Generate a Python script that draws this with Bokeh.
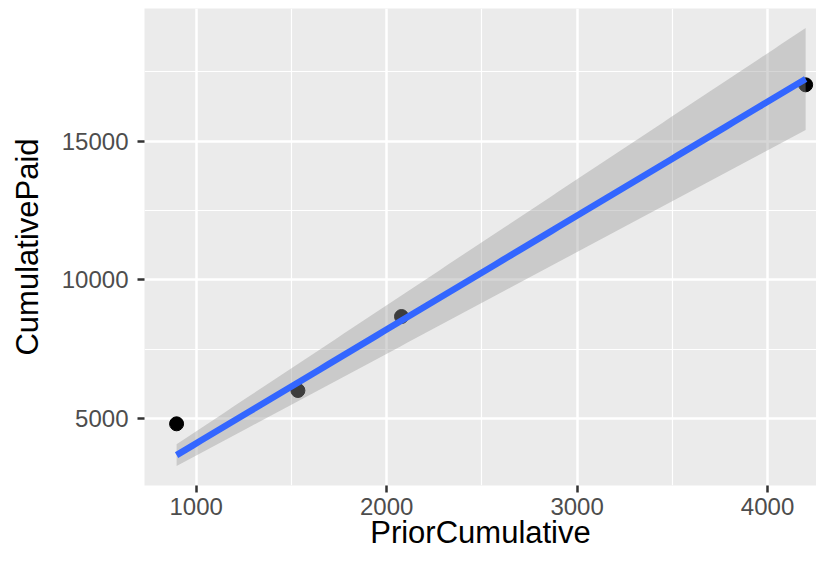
import numpy as np
from bokeh.plotting import figure
from bokeh.models import Range1d, FixedTicker, BasicTickFormatter
from bokeh.embed import file_html
from bokeh.resources import INLINE

# data
prior_cumulative = [897, 1534, 2078, 4200]
cumulative_paid = [4809, 6009, 8676, 17025]

x_ticks = [1000, 2000, 3000, 4000]
x_minor = [1500, 2500, 3500]
y_ticks = [5000, 10000, 15000]
y_minor = [7500, 12500, 17500]

# linear fit through origin (y ~ x + 0) with 95% confidence band
x = np.array(prior_cumulative, dtype=float)
y = np.array(cumulative_paid, dtype=float)
slope = np.sum(x * y) / np.sum(x * x)
resid = y - slope * x
df = len(x) - 1
s2 = np.sum(resid ** 2) / df
t_crit = 3.182446  # t(0.975, df=3)
xs = np.linspace(x.min(), x.max(), 80)
fit = slope * xs
se = np.sqrt(s2 * xs ** 2 / np.sum(x * x))
lo = fit - t_crit * se
hi = fit + t_crit * se

p = figure(width=816, height=557,
           x_range=Range1d(728.5, 4257), y_range=Range1d(2586, 19775),
           output_backend="svg", toolbar_location=None,
           min_border_left=144, min_border_right=0,
           min_border_top=8, min_border_bottom=72)

p.background_fill_color = "#EBEBEB"
p.border_fill_color = "white"
p.outline_line_color = None

p.xaxis.ticker = FixedTicker(ticks=x_ticks, minor_ticks=x_minor)
p.yaxis.ticker = FixedTicker(ticks=y_ticks, minor_ticks=y_minor)
for ax in (p.xaxis, p.yaxis):
    ax.formatter = BasicTickFormatter(use_scientific=False)
    ax.axis_line_color = None
    ax.major_tick_line_color = "#333333"
    ax.major_tick_line_width = 2.5
    ax.major_tick_in = 0
    ax.major_tick_out = 7
    ax.minor_tick_line_color = None
    ax.major_label_text_color = "#4D4D4D"
    ax.major_label_text_font = "Liberation Sans"
    ax.major_label_text_font_size = "24px"
    ax.axis_label_text_font = "Liberation Sans"
    ax.axis_label_text_font_size = "31px"
    ax.axis_label_text_font_style = "normal"
    ax.axis_label_text_color = "black"

p.yaxis.major_label_standoff = 9
p.xaxis.major_label_standoff = 5
p.xaxis.axis_label = "PriorCumulative"
p.yaxis.axis_label = "CumulativePaid"
p.xaxis.axis_label_standoff = -3
p.yaxis.axis_label_standoff = 14

for g in (p.xgrid, p.ygrid):
    g.grid_line_color = "white"
    g.grid_line_width = 2.5
    g.minor_grid_line_color = "white"
    g.minor_grid_line_width = 1.2

p.scatter(prior_cumulative, cumulative_paid, size=14, color="black")
p.varea(x=xs, y1=lo, y2=hi, fill_color="#999999", fill_alpha=0.4)
p.line(xs, fit, line_color="#3366FF", line_width=6.5)

open("out.html", "w").write(file_html(p, INLINE))
